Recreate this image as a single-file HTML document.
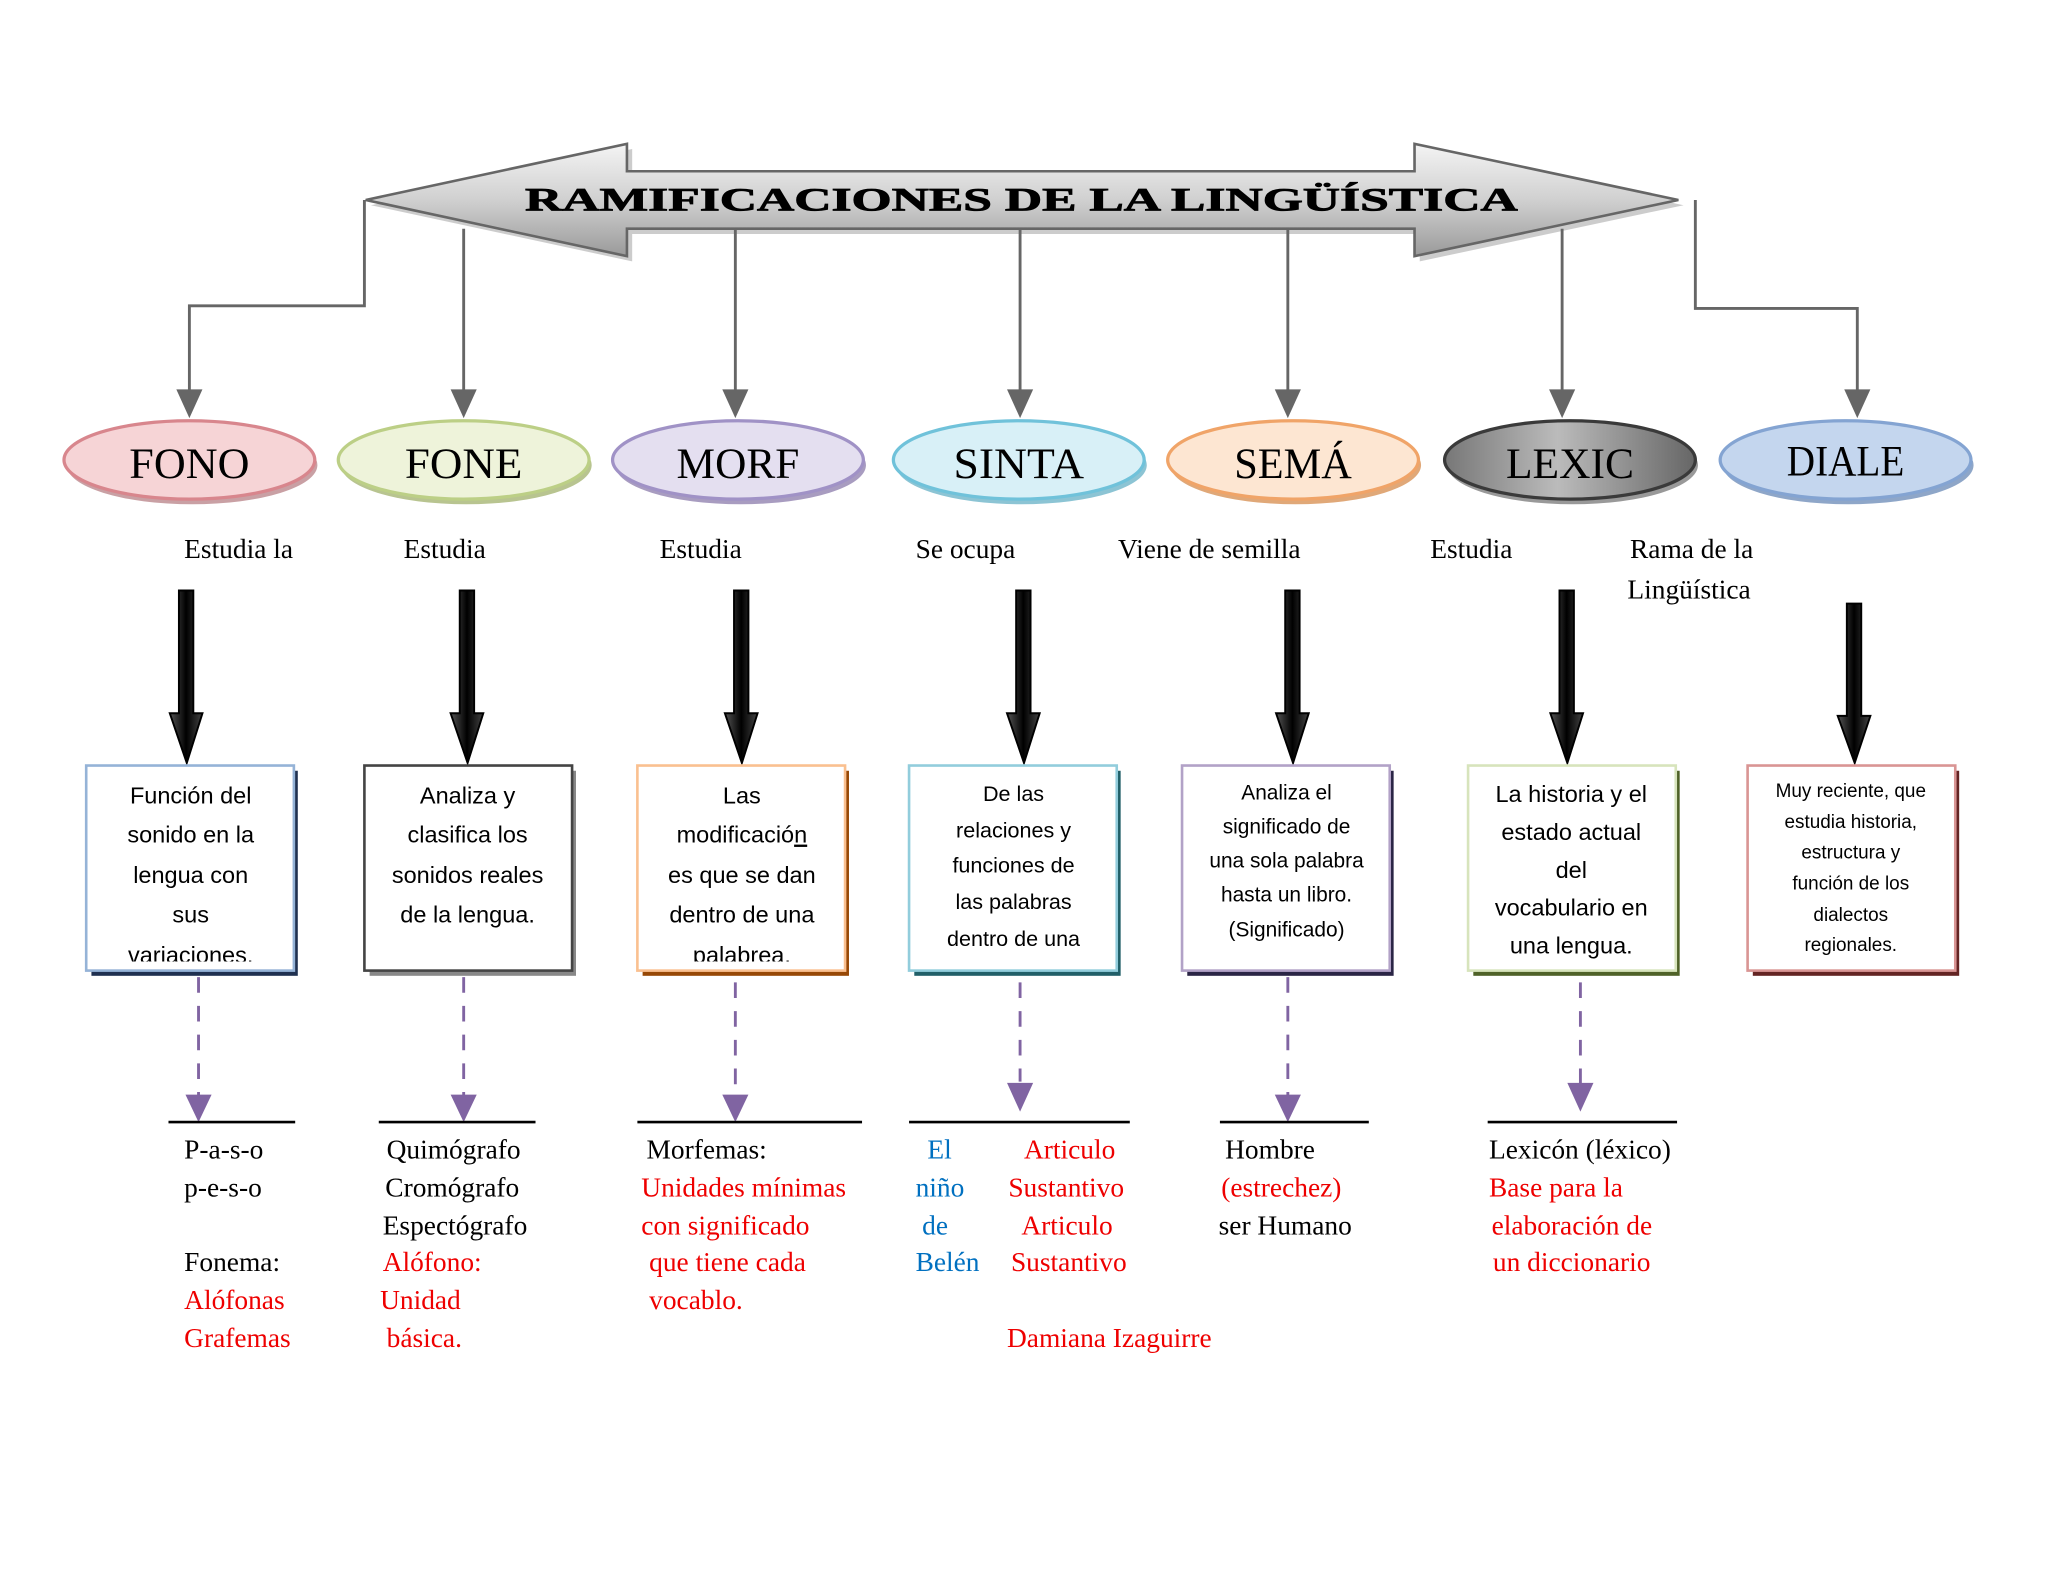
<!DOCTYPE html>
<html><head><meta charset="utf-8"><style>html,body{margin:0;padding:0;background:#fff}svg{display:block}</style></head>
<body>
<svg width="2048" height="1582" viewBox="0 0 1568 1211" xmlns="http://www.w3.org/2000/svg">
<defs>
<linearGradient id="ga" x1="0" y1="0" x2="0" y2="1"><stop offset="0" stop-color="#f4f4f4"/><stop offset="0.5" stop-color="#d0d0d0"/><stop offset="1" stop-color="#9a9a9a"/></linearGradient>
<linearGradient id="bk" x1="0" y1="0" x2="1" y2="0"><stop offset="0" stop-color="#555"/><stop offset="0.5" stop-color="#000"/><stop offset="1" stop-color="#444"/></linearGradient>
<linearGradient id="gl" x1="0" y1="0" x2="1" y2="0"><stop offset="0" stop-color="#777"/><stop offset="0.45" stop-color="#bbb"/><stop offset="1" stop-color="#666"/></linearGradient>
<clipPath id="c1"><rect x="66" y="586" width="160" height="150"/></clipPath>
<clipPath id="c3"><rect x="488" y="586" width="160" height="150"/></clipPath>
</defs>
<rect width="1568" height="1211" fill="#fff"/>
<polygon points="284,157 484,114 484,135 1087,135 1087,114 1289,157 1087,200 1087,179 484,179 484,200" fill="#999" opacity="0.5"/>
<polygon points="280,153 480,110 480,131 1083,131 1083,110 1285,153 1083,196 1083,175 480,175 480,196" fill="url(#ga)" stroke="#666" stroke-width="2"/>
<text x="402" y="161" font-family="Liberation Serif, serif" font-weight="bold" font-size="25" textLength="760" lengthAdjust="spacingAndGlyphs" fill="#000" stroke="#000" stroke-width="0.6">RAMIFICACIONES DE LA LINGÜÍSTICA</text>
<g stroke="#666" stroke-width="2.2" fill="none">
<polyline points="279,153 279,234 145,234 145,302"/>
<line x1="355" y1="175" x2="355" y2="302"/>
<line x1="563" y1="175" x2="563" y2="302"/>
<line x1="781" y1="175" x2="781" y2="302"/>
<line x1="986" y1="175" x2="986" y2="302"/>
<line x1="1196" y1="175" x2="1196" y2="302"/>
<polyline points="1298,153 1298,236 1422,236 1422,302"/>
</g>
<g fill="#666">
<polygon points="135,298 155,298 145,320"/><polygon points="345,298 365,298 355,320"/><polygon points="553,298 573,298 563,320"/>
<polygon points="771,298 791,298 781,320"/><polygon points="976,298 996,298 986,320"/><polygon points="1186,298 1206,298 1196,320"/><polygon points="1412,298 1432,298 1422,320"/>
</g>
<g stroke-width="2.5">
<ellipse cx="147" cy="356" rx="96" ry="30" fill="#c9a0a4" stroke="none"/>
<ellipse cx="145" cy="352" rx="96" ry="30" fill="#f6d4d6" stroke="#d8868d"/>
<ellipse cx="357" cy="356" rx="96" ry="30" fill="#b8c490" stroke="none"/>
<ellipse cx="355" cy="352" rx="96" ry="30" fill="#eef3da" stroke="#bccf86"/>
<ellipse cx="567" cy="356" rx="96" ry="30" fill="#a89cc0" stroke="none"/>
<ellipse cx="565" cy="352" rx="96" ry="30" fill="#e4dff0" stroke="#a092c6"/>
<ellipse cx="782" cy="356" rx="96" ry="30" fill="#8cc4d4" stroke="none"/>
<ellipse cx="780" cy="352" rx="96" ry="30" fill="#d8f0f7" stroke="#70c2da"/>
<ellipse cx="992" cy="356" rx="96" ry="30" fill="#e0a878" stroke="none"/>
<ellipse cx="990" cy="352" rx="96" ry="30" fill="#fde6d2" stroke="#f0a468"/>
<ellipse cx="1204" cy="356" rx="96" ry="30" fill="#999" stroke="none"/>
<ellipse cx="1202" cy="352" rx="96" ry="30" fill="url(#gl)" stroke="#3a3a3a"/>
<ellipse cx="1415" cy="356" rx="96" ry="30" fill="#8ea6c8" stroke="none"/>
<ellipse cx="1413" cy="352" rx="96" ry="30" fill="#c4d6ee" stroke="#84a4d2"/>
</g>
<g font-family="Liberation Serif, serif" font-size="33" text-anchor="middle" fill="#000">
<text x="145" y="366" textLength="92" lengthAdjust="spacingAndGlyphs">FONO</text>
<text x="355" y="366" textLength="90" lengthAdjust="spacingAndGlyphs">FONE</text>
<text x="565" y="366" textLength="94" lengthAdjust="spacingAndGlyphs">MORF</text>
<text x="780" y="366" textLength="100" lengthAdjust="spacingAndGlyphs">SINTA</text>
<text x="990" y="366" textLength="90" lengthAdjust="spacingAndGlyphs">SEMÁ</text>
<text x="1202" y="366" textLength="98" lengthAdjust="spacingAndGlyphs">LEXIC</text>
<text x="1413" y="364" textLength="90" lengthAdjust="spacingAndGlyphs">DIALE</text>
</g>
<g font-family="Liberation Serif, serif" font-size="21" fill="#000">
<text x="141" y="427">Estudia la</text>
<text x="309" y="427">Estudia</text>
<text x="505" y="427">Estudia</text>
<text x="701" y="427">Se ocupa</text>
<text x="856" y="427">Viene de semilla</text>
<text x="1095" y="427">Estudia</text>
<text x="1248" y="427">Rama de la</text>
<text x="1246" y="458">Lingüística</text>
</g>
<g stroke="#000" stroke-width="1.5">
<g transform="translate(142,0)"><path d="M-5,452 H6 V546 H13 L1,584 -12,546 H-5 Z" fill="url(#bk)"/></g>
<g transform="translate(357,0)"><path d="M-5,452 H6 V546 H13 L1,584 -12,546 H-5 Z" fill="url(#bk)"/></g>
<g transform="translate(567,0)"><path d="M-5,452 H6 V546 H13 L1,584 -12,546 H-5 Z" fill="url(#bk)"/></g>
<g transform="translate(783,0)"><path d="M-5,452 H6 V546 H13 L1,584 -12,546 H-5 Z" fill="url(#bk)"/></g>
<g transform="translate(989,0)"><path d="M-5,452 H6 V546 H13 L1,584 -12,546 H-5 Z" fill="url(#bk)"/></g>
<g transform="translate(1199,0)"><path d="M-5,452 H6 V546 H13 L1,584 -12,546 H-5 Z" fill="url(#bk)"/></g>
<g transform="translate(1419,0)"><path d="M-5,462 H6 V548 H13 L1,584 -12,548 H-5 Z" fill="url(#bk)"/></g>
</g>
<g stroke-width="2">
<rect x="70" y="590" width="158" height="157" fill="#1f3050"/><rect x="66" y="586" width="159" height="157" fill="#fff" stroke="#95b3d7"/>
<rect x="283" y="590" width="158" height="157" fill="#888"/><rect x="279" y="586" width="159" height="157" fill="#fff" stroke="#444"/>
<rect x="492" y="590" width="158" height="157" fill="#974806"/><rect x="488" y="586" width="159" height="157" fill="#fff" stroke="#fac090"/>
<rect x="700" y="590" width="158" height="157" fill="#215f68"/><rect x="696" y="586" width="159" height="157" fill="#fff" stroke="#92cddc"/>
<rect x="909" y="590" width="158" height="157" fill="#2a2545"/><rect x="905" y="586" width="159" height="157" fill="#fff" stroke="#b2a2c7"/>
<rect x="1128" y="590" width="158" height="157" fill="#4f6228"/><rect x="1124" y="586" width="159" height="157" fill="#fff" stroke="#d7e4bc"/>
<rect x="1342" y="590" width="158" height="157" fill="#632423"/><rect x="1338" y="586" width="159" height="157" fill="#fff" stroke="#d99594"/>
</g>
<g font-family="Liberation Sans, sans-serif" fill="#000" text-anchor="middle">
<g font-size="18" clip-path="url(#c1)"><text x="146" y="615">Función del</text><text x="146" y="645">sonido en la</text><text x="146" y="676">lengua con</text><text x="146" y="706">sus</text><text x="146" y="737">variaciones.</text></g>
<g font-size="18"><text x="358" y="615">Analiza y</text><text x="358" y="645">clasifica los</text><text x="358" y="676">sonidos reales</text><text x="358" y="706">de la lengua.</text></g>
<g font-size="18" clip-path="url(#c3)"><text x="568" y="615">Las</text><text x="568" y="645">modificació<tspan text-decoration="underline">n</tspan></text><text x="568" y="676">es que se dan</text><text x="568" y="706">dentro de una</text><text x="568" y="737">palabrea.</text></g>
<g font-size="16.5"><text x="776" y="613">De las</text><text x="776" y="641">relaciones y</text><text x="776" y="668">funciones de</text><text x="776" y="696">las palabras</text><text x="776" y="724">dentro de una</text></g>
<g font-size="16"><text x="985" y="612">Analiza el</text><text x="985" y="638">significado de</text><text x="985" y="664">una sola palabra</text><text x="985" y="690">hasta un libro.</text><text x="985" y="717">(Significado)</text></g>
<g font-size="18"><text x="1203" y="614">La historia y el</text><text x="1203" y="643">estado actual</text><text x="1203" y="672">del</text><text x="1203" y="701">vocabulario en</text><text x="1203" y="730">una lengua.</text></g>
<g font-size="14.5"><text x="1417" y="610">Muy reciente, que</text><text x="1417" y="634">estudia historia,</text><text x="1417" y="657">estructura y</text><text x="1417" y="681">función de los</text><text x="1417" y="705">dialectos</text><text x="1417" y="728">regionales.</text></g>
</g>
<g stroke="#8064a2" stroke-width="2.2" stroke-dasharray="12,10" fill="none">
<line x1="152" y1="748" x2="152" y2="840"/>
<line x1="355" y1="748" x2="355" y2="840"/>
<line x1="563" y1="752" x2="563" y2="840"/>
<line x1="781" y1="752" x2="781" y2="828"/>
<line x1="986" y1="748" x2="986" y2="840"/>
<line x1="1210" y1="752" x2="1210" y2="832"/>
</g>
<g fill="#8064a2">
<polygon points="142,838 162,838 152,859"/><polygon points="345,838 365,838 355,859"/><polygon points="553,838 573,838 563,859"/>
<polygon points="771,829 791,829 781,851"/><polygon points="976,838 996,838 986,859"/><polygon points="1200,829 1220,829 1210,851"/>
</g>
<g stroke="#000" stroke-width="2">
<line x1="129" y1="859" x2="226" y2="859"/><line x1="290" y1="859" x2="410" y2="859"/><line x1="488" y1="859" x2="660" y2="859"/>
<line x1="696" y1="859" x2="865" y2="859"/><line x1="934" y1="859" x2="1048" y2="859"/><line x1="1139" y1="859" x2="1284" y2="859"/>
</g>
<g font-family="Liberation Serif, serif" font-size="21" fill="#000">
<text x="141" y="887">P-a-s-o</text><text x="141" y="916">p-e-s-o</text><text x="141" y="973">Fonema:</text>
<text x="141" y="1002" fill="#e00">Alófonas</text><text x="141" y="1031" fill="#e00">Grafemas</text>
<text x="296" y="887">Quimógrafo</text><text x="295" y="916">Cromógrafo</text><text x="293" y="945">Espectógrafo</text>
<text x="293" y="973" fill="#e00">Alófono:</text><text x="291" y="1002" fill="#e00">Unidad</text><text x="296" y="1031" fill="#e00">básica.</text>
<text x="495" y="887">Morfemas:</text>
<g fill="#e00"><text x="491" y="916">Unidades mínimas</text><text x="491" y="945">con significado</text><text x="497" y="973">que tiene cada</text><text x="497" y="1002">vocablo.</text></g>
<g fill="#0070c0"><text x="710" y="887">El</text><text x="701" y="916">niño</text><text x="706" y="945">de</text><text x="701" y="973">Belén</text></g>
<g fill="#e00"><text x="784" y="887">Articulo</text><text x="772" y="916">Sustantivo</text><text x="782" y="945">Articulo</text><text x="774" y="973">Sustantivo</text>
<text x="771" y="1031">Damiana Izaguirre</text></g>
<text x="938" y="887">Hombre</text><text x="935" y="916" fill="#e00">(estrechez)</text><text x="933" y="945">ser Humano</text>
<text x="1140" y="887">Lexicón (léxico)</text>
<g fill="#e00"><text x="1140" y="916">Base para la</text><text x="1142" y="945">elaboración de</text><text x="1143" y="973">un diccionario</text></g>
</g>
</svg>
</body></html>
